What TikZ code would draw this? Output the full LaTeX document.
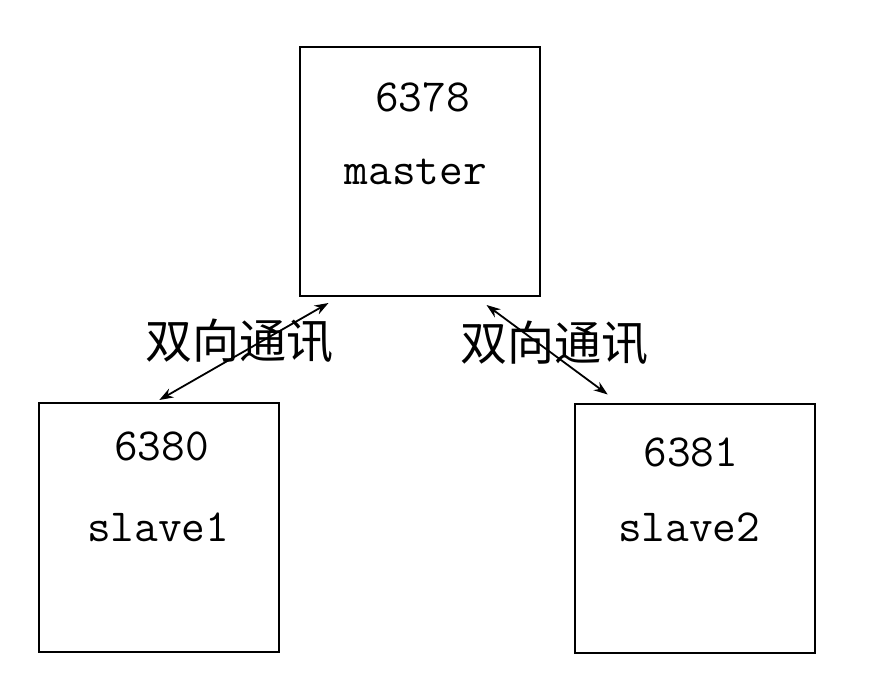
\documentclass[tikz,border=0pt]{standalone}
\usepackage{fontspec}
\newfontfamily\cjk{Noto Sans CJK SC}
\usetikzlibrary{arrows.meta,calc}
\begin{document}
\begin{tikzpicture}[x=1pt,y=-1pt,
  box/.style={draw,line width=2pt,inner sep=0pt,minimum width=240pt,minimum height=249pt},
  num/.style={font=\ttfamily\fontsize{46}{46}\selectfont,anchor=base,inner sep=0pt},
  lbl/.style={font=\cjk\fontsize{47}{47}\selectfont,inner sep=0pt},
  link/.style={line width=1.8pt,{Stealth[length=14pt,width=10pt]}-{Stealth[length=14pt,width=10pt]}}]
\useasboundingbox (0,0) rectangle (894,692);
\node[box] (master) at (419.5,171.5) {};
\node[box] (slave1) at (159.3,527.5) {};
\node[box] (slave2) at (694.7,528) {};
\node[num] (t6378) at (422.5,111.7) {6378};
\node[num] (tmaster) at (415.8,185) {master};
\node[num] (t6380) at (161.7,460) {6380};
\node[num] (tslave1) at (158.3,541.7) {slave1};
\node[num] (t6381) at (690.8,466.7) {6381};
\node[num] (tslave2) at (689.2,541.7) {slave2};
\node[lbl] (l1) at (239,341) {双向通讯};
\node[lbl] (l2) at (554,343) {双向通讯};
\coordinate (m1) at ($(master.south west)+(30,6)$);
\coordinate (s1a) at ($(slave1.north west)+(121,-2)$);
\coordinate (m2) at ($(master.south west)+(188,8)$);
\coordinate (s2a) at ($(slave2.north west)+(34,-8)$);
\draw[link] (m1) -- (s1a);
\draw[link] (m2) -- (s2a);
\end{tikzpicture}
\end{document}
